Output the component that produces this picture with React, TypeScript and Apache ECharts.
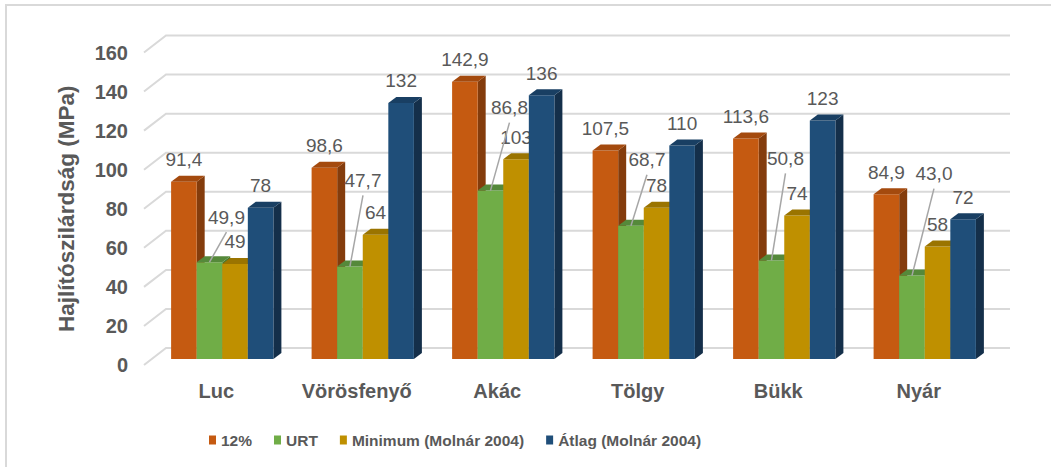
import React, { useEffect, useRef } from 'react';
import * as echarts from 'echarts';

const categories = ['Luc', 'Vörösfenyő', 'Akác', 'Tölgy', 'Bükk', 'Nyár'];
const seriesNames = ['12%', 'URT', 'Minimum (Molnár 2004)', 'Átlag (Molnár 2004)'];
const pct12 = [91.4, 98.6, 142.9, 107.5, 113.6, 84.9];
const urt = [49.9, 47.7, 86.8, 68.7, 50.8, 43.0];
const minimum = [49, 64, 103, 78, 74, 58];
const atlag = [78, 132, 136, 110, 123, 72];
const yTicks = [0, 20, 40, 60, 80, 100, 120, 140, 160];
const seriesValues = [pct12, urt, minimum, atlag];
const decimals = [1, 1, 0, 0];

const frontColors = ['#C55A11', '#70AD47', '#BF9000', '#1F4E79'];
const topColors = ['#A44A0E', '#55893A', '#9A7400', '#193F63'];
const sideColors = ['#843C0C', '#4B7A2F', '#7F6000', '#142F4A'];
// pixel shift of the URT labels from their bar top (manually placed in the original)
const urtLabelShift = [[17, -45], [13, -86], [19, -83], [16, -66], [14, -102], [22, -102]];

const FONT = "'Liberation Sans', Arial, sans-serif";
const TEXT = '#595959';
const GRIDLINE = '#d9d9d9';
const DX = 8;
const DY = -6;
const WALL_DX = 22;
const WALL_DY = -17;
const BAR_FRACTION = 0.182;

function fmt(v: number, d: number) {
  return d ? v.toFixed(d).replace('.', ',') : String(v);
}

function barGeom(api: any, s: number) {
  const idx = api.value(0);
  const v = api.value(1);
  const [cx, yTop] = api.coord([idx, v]);
  const yBot = api.coord([idx, 0])[1];
  const band = api.size([1, 0])[0];
  const w = band * BAR_FRACTION;
  const x = cx - 2 * w + s * w;
  return { x, w, yTop, yBot, v };
}

function barRenderer(s: number) {
  return (params: any, api: any) => {
    const { x, w, yTop, yBot, v } = barGeom(api, s);
    const children: any[] = [
      {
        type: 'polygon',
        shape: { points: [[x + w, yTop], [x + w + DX, yTop + DY], [x + w + DX, yBot + DY], [x + w, yBot]] },
        style: { fill: sideColors[s] },
      },
      { type: 'rect', shape: { x, y: yTop, width: w, height: yBot - yTop }, style: { fill: frontColors[s] } },
      {
        type: 'polygon',
        shape: { points: [[x, yTop], [x + w, yTop], [x + w + DX, yTop + DY], [x + DX, yTop + DY]] },
        style: { fill: topColors[s] },
      },
    ];
    if (s !== 1) {
      children.push({
        type: 'text',
        x: x + w / 2,
        y: yTop - 22,
        style: {
          text: fmt(v, decimals[s]),
          fill: TEXT,
          fontSize: 19,
          fontFamily: FONT,
          align: 'center',
          verticalAlign: 'middle',
        },
      });
    }
    return { type: 'group', children };
  };
}

function urtLabelRenderer(params: any, api: any) {
  const { x, w, yTop, v } = barGeom(api, 1);
  const i = params.dataIndex;
  const bx = x + w / 2;
  const lx = bx + urtLabelShift[i][0];
  const ly = yTop + urtLabelShift[i][1];
  return {
    type: 'group',
    children: [
      {
        type: 'line',
        shape: { x1: bx, y1: yTop, x2: lx, y2: ly + 15 },
        style: { stroke: '#a6a6a6', lineWidth: 1.5 },
      },
      {
        type: 'text',
        x: lx,
        y: ly,
        style: {
          text: fmt(v, 1),
          fill: TEXT,
          fontSize: 19,
          fontFamily: FONT,
          align: 'center',
          verticalAlign: 'middle',
        },
      },
    ],
  };
}

// side-wall diagonal + back-wall gridline for each tick, in front-plane coordinates
function wallGridRenderer(params: any, api: any) {
  const y = api.coord([0, api.value(1)])[1];
  const x0 = params.coordSys.x - 2;
  const x1 = x0 + WALL_DX;
  const x2 = params.coordSys.x + params.coordSys.width + WALL_DX - 1;
  return {
    type: 'polyline',
    shape: { points: [[x0, y], [x1, y + WALL_DY], [x2, y + WALL_DY]] },
    style: { stroke: GRIDLINE, lineWidth: 2, fill: 'none' },
  };
}

export default function App() {
  const ref = useRef<HTMLDivElement>(null);
  useEffect(() => {
    if (!ref.current) return;
    const chart = echarts.init(ref.current, undefined, { renderer: 'svg' });
    const valueAxisBase = { type: 'value', min: 0, max: 160, interval: 20 };
    const option: any = {
      animation: false,
      backgroundColor: '#ffffff',
      graphic: [
        {
          type: 'rect',
          shape: { x: 6, y: 5, width: 1100, height: 500 },
          style: { fill: 'none', stroke: GRIDLINE, lineWidth: 2 },
          silent: true,
          z: -10,
        },
      ],
      grid: [
        { left: 152, right: 56, top: 48.6, bottom: 108 },
        { left: 146, right: 62, top: 52.5, bottom: 102 },
      ],
      xAxis: [
        { type: 'category', data: categories, gridIndex: 0, show: false },
        {
          type: 'category',
          data: categories,
          gridIndex: 1,
          axisLine: { show: false },
          axisTick: { show: false },
          axisLabel: {
            interval: 0,
            color: TEXT,
            fontSize: 20,
            fontWeight: 'bold',
            fontFamily: FONT,
            margin: 16,
          },
        },
      ],
      yAxis: [
        { ...valueAxisBase, gridIndex: 0, show: false, splitLine: { show: false } },
        {
          ...valueAxisBase,
          gridIndex: 1,
          axisLine: { show: false },
          axisTick: { show: false },
          splitLine: { show: false },
          axisLabel: { color: TEXT, fontSize: 20, fontWeight: 'bold', fontFamily: FONT, margin: 18 },
          name: 'Hajlítószilárdság (MPa)',
          nameLocation: 'middle',
          nameRotate: 90,
          nameGap: 68,
          nameTextStyle: { color: TEXT, fontSize: 22.5, fontWeight: 'bold', fontFamily: FONT },
        },
      ],
      legend: {
        data: seriesNames,
        left: 204,
        top: 427,
        icon: 'rect',
        itemWidth: 7,
        itemHeight: 9,
        itemGap: 22,
        selectedMode: false,
        textStyle: { color: TEXT, fontSize: 15.5, fontWeight: 'bold', fontFamily: FONT },
      },
      series: [
        {
          type: 'custom',
          name: 'wallGrid',
          xAxisIndex: 1,
          yAxisIndex: 1,
          renderItem: wallGridRenderer,
          data: yTicks.map((t) => [0, t]),
          silent: true,
          z: 1,
        },
        ...seriesNames.map((name, s) => ({
          type: 'custom',
          name,
          xAxisIndex: 0,
          yAxisIndex: 0,
          itemStyle: { color: frontColors[s] },
          renderItem: barRenderer(s),
          data: seriesValues[s].map((v, i) => [i, v]),
          z: 2,
        })),
        {
          type: 'custom',
          name: 'urtLabels',
          xAxisIndex: 0,
          yAxisIndex: 0,
          renderItem: urtLabelRenderer,
          data: urt.map((v, i) => [i, v]),
          z: 5,
        },
      ],
    };
    chart.setOption(option);
    return () => chart.dispose();
  }, []);
  return <div ref={ref} style={{ position: 'fixed', left: 0, top: 0, width: 1051, height: 467 }} />;
}
